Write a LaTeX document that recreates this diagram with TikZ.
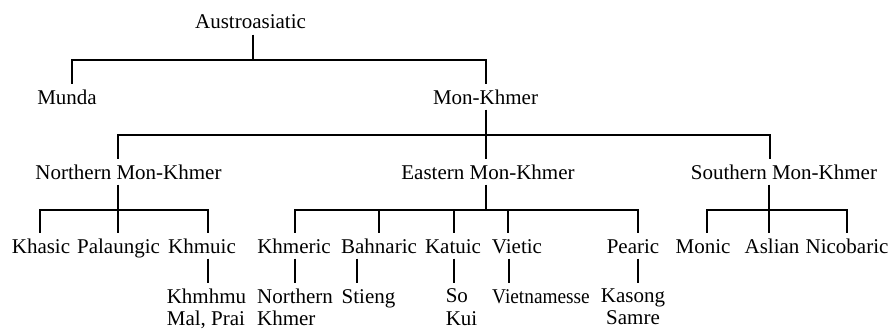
\documentclass[tikz,border=0pt]{standalone}
\usepackage{fontspec}
\setmainfont{Liberation Serif}

\tikzset{
    lang/.style={inner sep=0pt, anchor=base, text height=20pt, text depth=5.5pt, font=\rmfamily\fontsize{21}{22.5}\selectfont},
    sublang/.style={inner xsep=0pt, inner ysep=5.5pt, anchor=north, font=\rmfamily\fontsize{21}{22.5}\selectfont},
    branch/.style={line width=2pt},
}

\begin{document}
\begin{tikzpicture}[x=1pt, y=-1pt]
    \useasboundingbox (0, 0) rectangle (891, 329);

    \node[lang] (aa) at (250.5, 29) {Austroasiatic};

    \node[lang] (munda) at (67, 104) {Munda};
    \node[lang] (mk) at (485.5, 104) {Mon-Khmer};

    \node[lang] (nmk) at (128.5, 179) {Northern Mon-Khmer};
    \node[lang] (emk) at (488, 179) {Eastern Mon-Khmer};
    \node[lang] (smk) at (784, 179) {Southern Mon-Khmer};

    \node[lang] (khasic) at (41, 253) {Khasic};
    \node[lang] (palaungic) at (118.5, 253) {Palaungic};
    \node[lang] (khmuic) at (202, 253) {Khmuic};
    \node[lang] (khmeric) at (294, 253) {Khmeric};
    \node[lang] (bahnaric) at (379, 253) {Bahnaric};
    \node[lang] (katuic) at (453, 253) {Katuic};
    \node[lang] (vietic) at (517, 253) {Vietic};
    \node[lang] (pearic) at (633, 253) {Pearic};
    \node[lang] (monic) at (703, 253) {Monic};
    \node[lang] (aslian) at (772, 253) {Aslian};
    \node[lang] (nicobaric) at (847, 253) {Nicobaric};

    \node[sublang, align=left] (khmhmu) at (206.5, 283) {Khmhmu\\Mal, Prai};
    \node[sublang, align=left] (nkhmer) at (295, 283) {Northern\\Khmer};
    \node[lang] (stieng) at (368.5, 303) {Stieng};
    \node[sublang, align=left] (sokui) at (461.5, 283) {So\\Kui};
    \node[lang] (vietnamesse) at (541, 303) {\scalebox{0.92}[1]{Vietnamesse}};
    \node[sublang, align=center] (kasong) at (633, 283) {Kasong\\Samre};

    \coordinate (barAA) at (253, 60);
    \coordinate (barMK) at (486, 135);
    \coordinate (barN) at (118, 210);
    \coordinate (barE) at (486, 210);
    \coordinate (barS) at (769, 210);

    % Austroasiatic
    \draw[branch] (aa.south -| barAA) -- (barAA);
    \draw[branch] (munda.north -| 72,0) |- (barAA) -| (mk.north -| 486,0);

    % Mon-Khmer
    \draw[branch] (mk.south -| barMK) -- (barMK);
    \draw[branch] (nmk.north -| 118,0) |- (barMK) -| (smk.north -| 770,0);
    \draw[branch] (emk.north -| barMK) -- (barMK);

    % Northern Mon-Khmer
    \draw[branch] (nmk.south -| barN) -- (barN);
    \draw[branch] (khasic.north -| 40,0) |- (barN) -| (khmuic.north -| 208,0);
    \draw[branch] (palaungic.north -| barN) -- (barN);

    % Eastern Mon-Khmer
    \draw[branch] (emk.south -| barE) -- (barE);
    \draw[branch] (khmeric.north -| 295,0) |- (barE) -| (pearic.north -| 638,0);
    \foreach \c/\x in {bahnaric/379, katuic/454, vietic/508}
        \draw[branch] (\c.north -| \x,0) -- (barE -| \x,0);

    % Southern Mon-Khmer
    \draw[branch] (smk.south -| barS) -- (barS);
    \draw[branch] (monic.north -| 707,0) |- (barS) -| (nicobaric.north -| 847,0);
    \draw[branch] (aslian.north -| barS) -- (barS);

    % down to single languages
    \foreach \p/\c/\x in {khmuic/khmhmu/208, khmeric/nkhmer/295, bahnaric/stieng/357,
                          katuic/sokui/454, vietic/vietnamesse/509, pearic/kasong/638}
        \draw[branch] (\p.south -| \x,0) -- (\c.north -| \x,0);
\end{tikzpicture}
\end{document}
